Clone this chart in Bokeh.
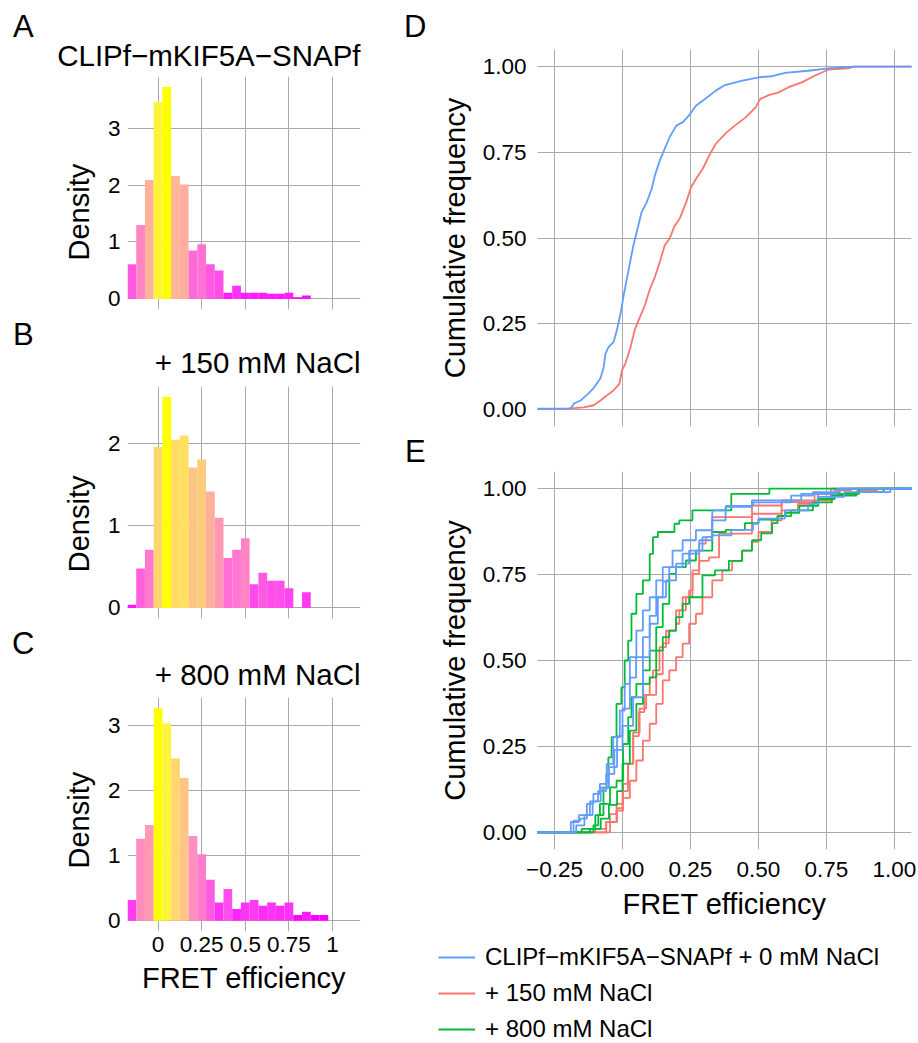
import math
from bokeh.plotting import figure
from bokeh.layouts import row, column
from bokeh.models import Range1d, FixedTicker, Label, Legend, LegendItem, ColumnDataSource, Title
from bokeh.embed import file_html
from bokeh.resources import INLINE

# ---------------- data ----------------
bin_centers = [-0.15, -0.10, -0.05, 0.00, 0.05, 0.10, 0.15, 0.20, 0.25, 0.30, 0.35, 0.40,
               0.45, 0.50, 0.55, 0.60, 0.65, 0.70, 0.75, 0.80, 0.85, 0.90, 0.95]
bin_width = 0.05

density_A = [0.61, 1.30, 2.09, 3.46, 3.72, 2.16, 2.01, 0.85, 0.96, 0.61, 0.50, 0.11,
             0.23, 0.11, 0.11, 0.11, 0.09, 0.09, 0.11, 0.03, 0.06]
density_B = [0.04, 0.48, 0.71, 1.96, 2.57, 2.05, 2.10, 1.71, 1.81, 1.42, 1.10, 0.61,
             0.71, 0.85, 0.29, 0.43, 0.33, 0.33, 0.24, 0.00, 0.19]
density_C = [0.32, 1.26, 1.47, 3.26, 3.03, 2.49, 2.19, 1.30, 1.02, 0.63, 0.28, 0.49,
             0.18, 0.28, 0.32, 0.23, 0.28, 0.23, 0.28, 0.09, 0.14, 0.09, 0.09]

panel_letters = ["A", "B", "C", "D", "E"]
hist_titles = ["CLIPf\u2212mKIF5A\u2212SNAPf", "+ 150 mM NaCl", "+ 800 mM NaCl"]
hist_yticks = [[0, 1, 2, 3], [0, 1, 2], [0, 1, 2, 3]]
hist_xticks = [0, 0.25, 0.5, 0.75, 1]
hist_xtick_labels = ["0", "0.25", "0.5", "0.75", "1"]

cdf_xticks = [-0.25, 0, 0.25, 0.5, 0.75, 1.0]
cdf_xtick_labels = ["\u22120.25", "0.00", "0.25", "0.50", "0.75", "1.00"]
cdf_yticks = [0, 0.25, 0.5, 0.75, 1.0]
cdf_ytick_labels = ["0.00", "0.25", "0.50", "0.75", "1.00"]

# Panel D: pooled cumulative curves (x = FRET efficiency, F = cumulative frequency)
D_blue_x = [-0.5, -0.19, -0.178, -0.154, -0.130, -0.106, -0.081, -0.069, -0.063, -0.051, -0.033,
            -0.021, -0.006, 0.004, 0.016, 0.028, 0.040, 0.052, 0.070, 0.089, 0.107, 0.119, 0.137,
            0.155, 0.173, 0.198, 0.222, 0.246, 0.270, 0.307, 0.343, 0.374, 0.441, 0.501, 0.550,
            0.598, 0.683, 0.756, 0.853, 1.5]
D_blue_F = [0, 0.003, 0.017, 0.026, 0.043, 0.062, 0.091, 0.123, 0.162, 0.182, 0.196,
            0.230, 0.284, 0.332, 0.381, 0.430, 0.478, 0.517, 0.575, 0.604, 0.643, 0.682, 0.726,
            0.760, 0.794, 0.828, 0.838, 0.859, 0.886, 0.908, 0.930, 0.945, 0.959, 0.969, 0.972,
            0.982, 0.988, 0.995, 1.0, 1.0]
D_red_x = [-0.5, -0.203, -0.142, -0.106, -0.081, -0.057, -0.033, -0.011, -0.002, 0.010, 0.028,
           0.046, 0.064, 0.082, 0.101, 0.119, 0.137, 0.155, 0.173, 0.192, 0.210, 0.234, 0.252,
           0.270, 0.295, 0.319, 0.343, 0.380, 0.416, 0.453, 0.489, 0.507, 0.538, 0.574, 0.611,
           0.659, 0.708, 0.756, 0.829, 0.853, 1.5]
D_red_F = [0, 0.002, 0.006, 0.012, 0.026, 0.041, 0.055, 0.075, 0.114, 0.133, 0.177,
           0.235, 0.269, 0.303, 0.352, 0.386, 0.430, 0.478, 0.498, 0.536, 0.556, 0.604, 0.648,
           0.672, 0.702, 0.741, 0.775, 0.806, 0.830, 0.852, 0.881, 0.906, 0.917, 0.925, 0.940,
           0.954, 0.974, 0.991, 0.995, 1.0, 1.0]

# Panel E: individual experiments
E_green1_x = [-0.5, -0.107, -0.089, -0.070, -0.052, -0.040, -0.022, -0.004, 0.008, 0.021, 0.033,
              0.051, 0.075, 0.100, 0.112, 0.130, 0.191, 0.209, 0.257, 0.40, 0.54, 1.5]
E_green1_F = [0, 0.02, 0.05, 0.13, 0.218, 0.277, 0.374, 0.422, 0.50, 0.558, 0.636,
              0.694, 0.733, 0.81, 0.859, 0.874, 0.898, 0.908, 0.937, 0.985, 1.0, 1.0]
E_green2_x = [-0.5, -0.15, -0.10, -0.083, -0.046, -0.022, 0.002, 0.021, 0.033, 0.051, 0.075, 0.10,
              0.124, 0.148, 0.172, 0.197, 0.233, 0.27, 0.33, 0.38, 0.45, 0.50, 0.57, 0.60, 0.65,
              0.72, 0.78, 0.87, 1.5]
E_green2_F = [0, 0.01, 0.05, 0.083, 0.131, 0.15, 0.257, 0.335, 0.393, 0.432, 0.471, 0.529,
              0.597, 0.665, 0.752, 0.772, 0.791, 0.82, 0.874, 0.88, 0.90, 0.91, 0.92, 0.93, 0.95,
              0.97, 0.985, 1.0, 1.0]
E_green3_x = [-0.5, -0.16, -0.12, -0.08, -0.05, -0.02, 0.0, 0.027, 0.051, 0.075, 0.1, 0.124, 0.148,
              0.172, 0.197, 0.221, 0.245, 0.294, 0.34, 0.391, 0.44, 0.476, 0.51, 0.55, 0.57, 0.62,
              0.70, 0.77, 0.86, 0.96, 1.5]
E_green3_F = [0, 0.0, 0.01, 0.04, 0.08, 0.12, 0.2, 0.296, 0.374, 0.432, 0.451, 0.529, 0.568,
              0.587, 0.626, 0.665, 0.684, 0.748, 0.762, 0.79, 0.82, 0.85, 0.87, 0.90, 0.92, 0.937,
              0.96, 0.98, 0.99, 1.0, 1.0]
E_red1_x = [-0.5, -0.15, -0.10, -0.06, -0.022, 0.002, 0.027, 0.051, 0.075, 0.10, 0.124, 0.148,
            0.172, 0.197, 0.221, 0.245, 0.27, 0.294, 0.33, 0.367, 0.403, 0.44, 0.476, 0.5, 0.548,
            0.585, 0.645, 0.706, 0.766, 0.863, 0.936, 1.5]
E_red1_F = [0, 0.0, 0.01, 0.03, 0.063, 0.10, 0.15, 0.209, 0.267, 0.316, 0.374, 0.442,
            0.471, 0.51, 0.549, 0.607, 0.636, 0.684, 0.733, 0.762, 0.79, 0.82, 0.845, 0.874, 0.908,
            0.937, 0.956, 0.966, 0.985, 0.995, 1.0, 1.0]
E_red2_x = [-0.5, -0.12, -0.06, -0.02, 0.0, 0.02, 0.04, 0.06, 0.08, 0.10, 0.112, 0.136, 0.16,
            0.197, 0.209, 0.233, 0.257, 0.282, 0.306, 0.33, 0.476, 0.585, 0.718, 0.766, 1.5]
E_red2_F = [0, 0.0, 0.03, 0.07, 0.12, 0.2, 0.28, 0.35, 0.40, 0.45, 0.471, 0.539, 0.587,
            0.607, 0.646, 0.684, 0.762, 0.84, 0.859, 0.917, 0.951, 0.961, 0.985, 1.0, 1.0]
E_red3_x = [-0.5, -0.10, -0.046, -0.022, 0.002, 0.021, 0.039, 0.063, 0.087, 0.124, 0.148, 0.17,
            0.197, 0.221, 0.245, 0.258, 0.282, 0.318, 0.355, 0.476, 0.585, 0.706, 0.778, 0.84, 1.5]
E_red3_F = [0, 0.0, 0.053, 0.083, 0.141, 0.199, 0.29, 0.36, 0.40, 0.46, 0.55, 0.587,
            0.646, 0.684, 0.704, 0.752, 0.79, 0.80, 0.869, 0.927, 0.966, 0.985, 0.995, 1.0, 1.0]
E_blue1_x = [-0.5, -0.22, -0.18, -0.155, -0.131, -0.107, -0.083, -0.058, -0.034, -0.01, 0.008,
             0.027, 0.051, 0.075, 0.10, 0.124, 0.148, 0.184, 0.221, 0.27, 0.33, 0.38, 0.48, 0.62,
             0.70, 0.80, 1.5]
E_blue1_F = [0, 0.0, 0.034, 0.04, 0.083, 0.112, 0.141, 0.199, 0.277, 0.354, 0.432,
             0.51, 0.587, 0.646, 0.684, 0.733, 0.772, 0.82, 0.85, 0.879, 0.937, 0.95, 0.96, 0.98,
             0.99, 1.0, 1.0]
E_blue2_x = [-0.5, -0.2, -0.17, -0.14, -0.11, -0.08, -0.05, -0.02, 0.0, 0.027, 0.05, 0.075, 0.10,
             0.124, 0.148, 0.172, 0.221, 0.282, 0.33, 0.379, 0.476, 0.657, 0.79, 1.5]
E_blue2_F = [0, 0.0, 0.02, 0.05, 0.09, 0.13, 0.19, 0.28, 0.36, 0.45, 0.51, 0.568, 0.63,
             0.684, 0.73, 0.772, 0.811, 0.85, 0.908, 0.947, 0.966, 0.985, 1.0, 1.0]
E_blue3_x = [-0.5, -0.21, -0.19, -0.16, -0.12, -0.09, -0.06, -0.03, 0.0, 0.039, 0.075, 0.10, 0.13,
             0.16, 0.197, 0.245, 0.294, 0.33, 0.40, 0.48, 0.50, 0.597, 0.682, 0.718, 0.815, 0.985, 1.5]
E_blue3_F = [0, 0.0, 0.03, 0.05, 0.09, 0.12, 0.17, 0.24, 0.31, 0.393, 0.51, 0.607, 0.684,
             0.733, 0.782, 0.82, 0.859, 0.864, 0.88, 0.898, 0.913, 0.937, 0.956, 0.976, 0.99, 1.0, 1.0]

legend_labels = ["CLIPf\u2212mKIF5A\u2212SNAPf + 0 mM NaCl", "+ 150 mM NaCl", "+ 800 mM NaCl"]

# ---------------- styles ----------------
FONT = "Liberation Sans"
BLUE, RED, GREEN = "#619CFF", "#F8766D", "#00BA38"
GRID = "#a9a9a9"
TICK_FS = "22.5px"
TITLE_FS = "29.5px"
AXT_FS = "29px"
LETTER_PX = 31.0
LW = 1.8
PAGE_H = 1043


def _lin(c):
    c = c / 255.0
    return c / 12.92 if c <= 0.04045 else ((c + 0.055) / 1.055) ** 2.4


def _delin(c):
    c = 12.92 * c if c <= 0.0031308 else 1.055 * c ** (1 / 2.4) - 0.055
    return int(round(min(max(c, 0), 1) * 255))


WHITE = (0.95047, 1.0, 1.08883)


def hex2lab(h):
    r, g, b = (_lin(int(h[i:i + 2], 16)) for i in (1, 3, 5))
    X = 0.4124 * r + 0.3576 * g + 0.1805 * b
    Y = 0.2126 * r + 0.7152 * g + 0.0722 * b
    Z = 0.0193 * r + 0.1192 * g + 0.9505 * b
    d = 6 / 29

    def f(t):
        return t ** (1 / 3) if t > d ** 3 else t / (3 * d * d) + 4 / 29
    fx, fy, fz = f(X / WHITE[0]), f(Y / WHITE[1]), f(Z / WHITE[2])
    return (116 * fy - 16, 500 * (fx - fy), 200 * (fy - fz))


def lab2hex(L, a, b):
    d = 6 / 29
    fy = (L + 16) / 116
    fx = fy + a / 500
    fz = fy - b / 200

    def finv(t):
        return t ** 3 if t > d else 3 * d * d * (t - 4 / 29)
    X, Y, Z = WHITE[0] * finv(fx), WHITE[1] * finv(fy), WHITE[2] * finv(fz)
    r = 3.2406 * X - 1.5372 * Y - 0.4986 * Z
    g = -0.9689 * X + 1.8758 * Y + 0.0415 * Z
    bb = 0.0557 * X - 0.2040 * Y + 1.0570 * Z
    return "#%02x%02x%02x" % (_delin(r), _delin(g), _delin(bb))


LOW, HIGH = hex2lab("#FF00FF"), hex2lab("#FFFF00")


def fill_colors(vals):
    lo, hi = min(vals), max(vals)
    out = []
    for v in vals:
        t = (v - lo) / (hi - lo)
        out.append(lab2hex(*[LOW[i] + t * (HIGH[i] - LOW[i]) for i in range(3)]))
    return out


def style_common(p):
    p.outline_line_color = None
    p.background_fill_color = "white"
    p.border_fill_color = "white"
    for g in (p.xgrid, p.ygrid):
        g.grid_line_color = GRID
        g.grid_line_width = 1
        g.minor_grid_line_color = None
    for ax in (p.xaxis, p.yaxis):
        ax.axis_line_color = None
        ax.major_tick_line_color = None
        ax.minor_tick_line_color = None
        ax.major_tick_out = 0
        ax.major_tick_in = 0
        ax.major_label_text_font = FONT
        ax.major_label_text_font_size = TICK_FS
        ax.major_label_text_color = "black"
        ax.axis_label_text_font = FONT
        ax.axis_label_text_font_size = AXT_FS
        ax.axis_label_text_font_style = "normal"
        ax.axis_label_text_color = "black"


def blank_fig(width, height):
    """A blank figure whose frame is its whole area (used for letters and the legend)."""
    p = figure(width=width, height=height, x_range=Range1d(0, 1), y_range=Range1d(0, 1),
               x_axis_type=None, y_axis_type=None, output_backend="svg", toolbar_location=None,
               min_border=0, min_border_left=0, min_border_right=0,
               min_border_top=0, min_border_bottom=0)
    p.outline_line_color = None
    p.background_fill_color = "white"
    p.border_fill_color = "white"
    return p


def letter_strip(width, height, letters_pos):
    p = blank_fig(width, height)
    for letter, x, baseline in letters_pos:
        mid = baseline - 0.3465 * LETTER_PX
        p.add_layout(Label(x=x, y=height - mid, x_units="screen", y_units="screen", text=letter,
                           text_font=FONT, text_font_size="%.1fpx" % LETTER_PX,
                           text_color="black", text_align="left", text_baseline="middle"))
    return p


def add_title(p, text, standoff):
    p.add_layout(Title(text=text, align="right", vertical_align="bottom", standoff=standoff,
                       offset=0, text_font=FONT, text_font_size=TITLE_FS,
                       text_font_style="normal", text_color="black"), "above")


# ---------------- left: histograms ----------------
hist_specs = [
    # density, fig height, top, bottom, show x, title standoff, Density offset, y ticks
    (density_A, 310, 76, 1, False, 9.5, 49.0, hist_yticks[0]),
    (density_B, 310, 76, 2, False, 16.0, 46.3, hist_yticks[1]),
    (density_C, 423, 77, 112, True, 13.5, 63.0, hist_yticks[2]),
]

hist_figs = []
for k, (dens, h, top, bot, showx, t_so, dens_off, yt) in enumerate(hist_specs):
    ymax = max(dens)
    p = figure(width=330, height=h, x_range=Range1d(-0.175, 1.16),
               y_range=Range1d(-0.05 * ymax, 1.05 * ymax),
               output_backend="svg", toolbar_location=None,
               min_border_left=74, min_border_right=20,
               min_border_top=top, min_border_bottom=bot)
    n = len(dens)
    centers = bin_centers[:n]
    src = ColumnDataSource(dict(
        left=[c - bin_width / 2 for c in centers],
        right=[c + bin_width / 2 for c in centers],
        top=dens, bottom=[0] * n, color=fill_colors(dens)))
    p.quad(left="left", right="right", top="top", bottom="bottom", source=src,
           fill_color="color", line_color=None)
    style_common(p)
    p.xaxis.ticker = FixedTicker(ticks=hist_xticks)
    p.xgrid.ticker = FixedTicker(ticks=hist_xticks)
    p.yaxis.ticker = FixedTicker(ticks=yt)
    p.ygrid.ticker = FixedTicker(ticks=yt)
    p.xaxis.major_label_overrides = dict(zip(hist_xticks, hist_xtick_labels))
    p.yaxis.major_label_standoff = 7
    p.xaxis.major_label_standoff = 5
    if not showx:
        p.xaxis.visible = False
    else:
        p.xaxis.axis_label = "FRET efficiency"
        p.xaxis.axis_label_standoff = 7
    add_title(p, hist_titles[k], t_so)
    p.add_layout(Title(text="Density", align="left", offset=dens_off, vertical_align="bottom",
                       standoff=20, text_font=FONT, text_font_size=AXT_FS,
                       text_font_style="normal", text_color="black"), "left")
    hist_figs.append(p)

lettersL = letter_strip(50, PAGE_H, [(panel_letters[0], 12.5, 36.3),
                                     (panel_letters[1], 12.5, 345.0),
                                     (panel_letters[2], 11.5, 653.3)])


# ---------------- right: cumulative curves ----------------
def cdf_fig(height, top, bottom, showx):
    p = figure(width=483, height=height, x_range=Range1d(-0.3125, 1.0625),
               y_range=Range1d(-0.05, 1.05), output_backend="svg", toolbar_location=None,
               min_border_left=98, min_border_right=7,
               min_border_top=top, min_border_bottom=bottom)
    style_common(p)
    p.xaxis.ticker = FixedTicker(ticks=cdf_xticks)
    p.xgrid.ticker = FixedTicker(ticks=cdf_xticks)
    p.yaxis.ticker = FixedTicker(ticks=cdf_yticks)
    p.ygrid.ticker = FixedTicker(ticks=cdf_yticks)
    p.xaxis.major_label_overrides = dict(zip(cdf_xticks, cdf_xtick_labels))
    p.yaxis.major_label_overrides = dict(zip(cdf_yticks, cdf_ytick_labels))
    p.yaxis.major_label_standoff = 11
    p.xaxis.major_label_standoff = 12
    p.yaxis.axis_label = "Cumulative frequency"
    p.yaxis.axis_label_standoff = 9
    if not showx:
        p.xaxis.visible = False
    else:
        p.xaxis.axis_label = "FRET efficiency"
        p.xaxis.axis_label_standoff = 8
    return p


pD = cdf_fig(440, 49, 14, False)
pD.line(D_red_x, D_red_F, line_color=RED, line_width=LW)
pD.line(D_blue_x, D_blue_F, line_color=BLUE, line_width=LW)

pE = cdf_fig(489, 31, 80, True)
for xs, fs in [(E_red1_x, E_red1_F), (E_red2_x, E_red2_F), (E_red3_x, E_red3_F)]:
    pE.step(xs, fs, mode="after", line_color=RED, line_width=LW)
for xs, fs in [(E_green1_x, E_green1_F), (E_green2_x, E_green2_F), (E_green3_x, E_green3_F)]:
    pE.step(xs, fs, mode="after", line_color=GREEN, line_width=LW)
for xs, fs in [(E_blue1_x, E_blue1_F), (E_blue2_x, E_blue2_F), (E_blue3_x, E_blue3_F)]:
    pE.step(xs, fs, mode="after", line_color=BLUE, line_width=LW)

lettersR = letter_strip(55, 929, [(panel_letters[3], 23.5, 36.7),
                                  (panel_letters[4], 24.5, 461.7)])

# legend strip below panel E: keys reuse the three series colours
legF = blank_fig(538, 114)
nan = float("nan")
keys = [legF.line(x=[nan, nan], y=[nan, nan], line_color=c, line_width=LW)
        for c in (BLUE, RED, GREEN)]
legend = Legend(items=[LegendItem(label=lab, renderers=[r]) for lab, r in zip(legend_labels, keys)],
                location=(58, 0), orientation="vertical",
                glyph_width=37, glyph_height=26, label_height=26, spacing=8,
                label_standoff=10, padding=0, margin=0,
                label_text_font=FONT, label_text_font_size="24px", label_text_color="black",
                border_line_color=None, background_fill_alpha=0)
legF.add_layout(legend, "center")

right = column(row(lettersR, column(pD, pE)), legF)
layout = row(lettersL, column(*hist_figs), right)

open("out.html", "w").write(file_html(layout, INLINE))
